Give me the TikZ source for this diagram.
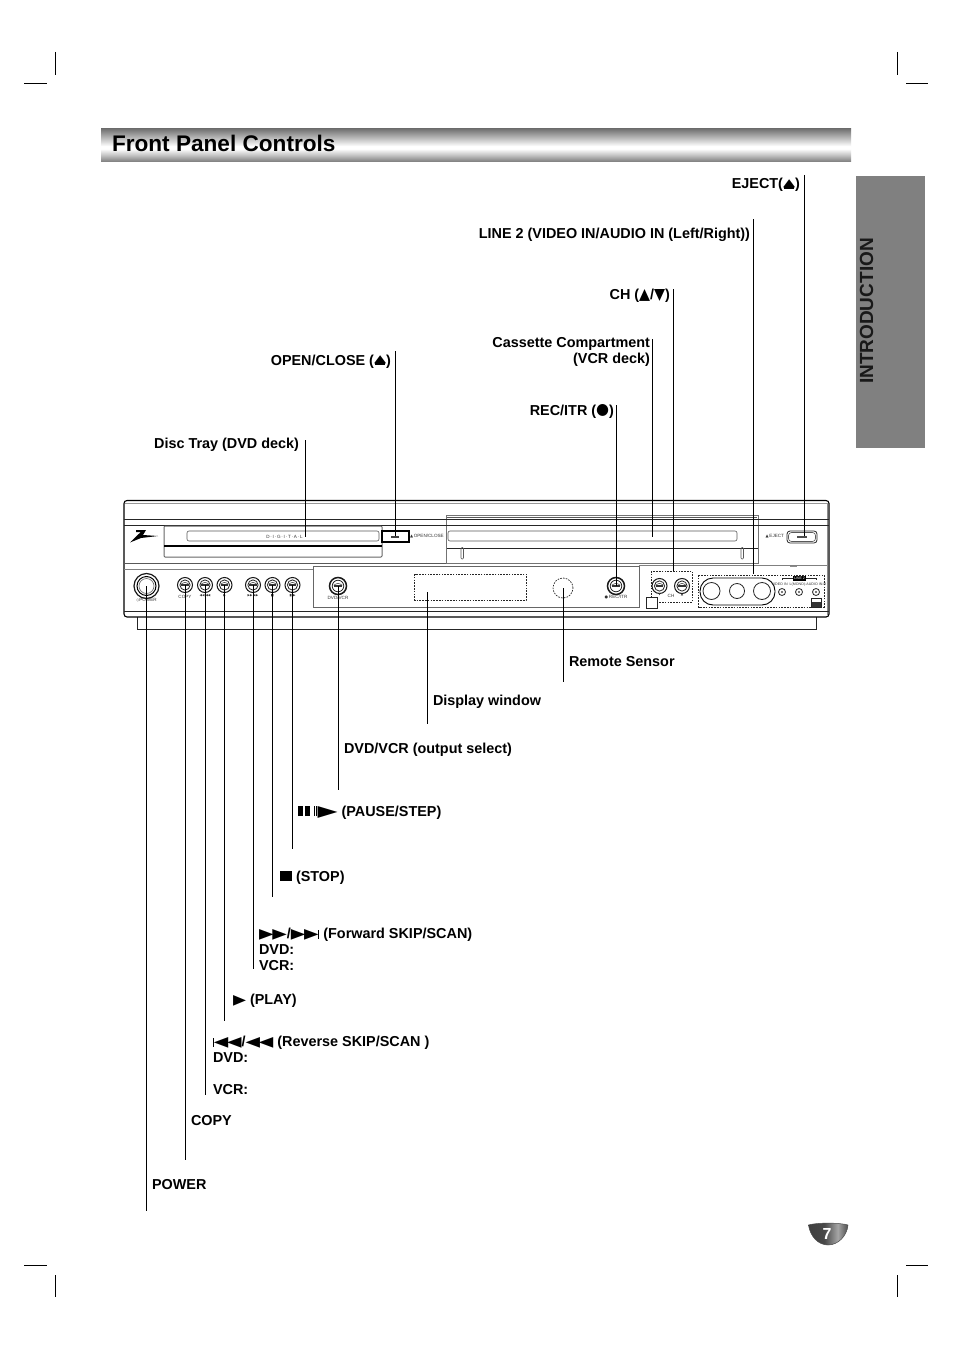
\documentclass[tikz,border=0pt]{standalone}
\usepackage{fontspec}
\setmainfont{Liberation Sans}
\newfontfamily\symf{DejaVu Sans}
\usetikzlibrary{calc}
\definecolor{tabgray}{HTML}{808080}
\pgfdeclareverticalshading{titlebar}{100bp}{
  color(0bp)=(black!52);
  color(25bp)=(black!52);
  color(36bp)=(black!22);
  color(45bp)=(white);
  color(49bp)=(white);
  color(62bp)=(black!28);
  color(75bp)=(black!55);
  color(100bp)=(black!55)}
\pgfdeclarehorizontalshading{badge}{100bp}{
  color(0bp)=(black!75);
  color(25bp)=(black!75);
  color(45bp)=(black!72);
  color(62bp)=(black!35);
  color(75bp)=(black!70);
  color(100bp)=(black!70)}
\newcommand{\lbl}{\fontsize{14.4}{16}\selectfont\bfseries}
\newcommand{\pl}{\resizebox{14.5pt}{9pt}{\symf ▶}}
\newcommand{\rv}{\resizebox{14.5pt}{9pt}{\symf ◀}}
\newcommand{\vb}{\rule{1.2pt}{9pt}}
\newcommand{\ej}{{\ooalign{\raisebox{2.8pt}{\resizebox{12.2pt}{6.8pt}{\symf ▲}}\cr\hfil\rule{10pt}{1.8pt}\hfil\cr}}}
\newcommand{\up}{\resizebox{11pt}{10pt}{\symf ▲}}
\newcommand{\dn}{\resizebox{11pt}{10pt}{\symf ▼}}
\newcommand{\rec}{\raisebox{0.3pt}{\resizebox{13pt}{10pt}{\symf ●}}}
\tikzset{
  leader/.style={draw=black,line width=1pt},
  crop/.style={draw=black,line width=1pt},
  label/.style={inner sep=0pt,outer sep=0pt,font=\lbl,text=black},
  labelr/.style={label,anchor=base east},
  labell/.style={label,anchor=base west},
  dev/.style={draw=black!85,line width=0.8pt},
  devthin/.style={draw=black!65,line width=0.6pt},
  devdash/.style={draw=black!85,line width=0.7pt,dash pattern=on 1.6pt off 1.2pt},
  tiny/.style={inner sep=0pt,outer sep=0pt,font=\fontsize{4.6}{5}\selectfont,text=black!80},
  tinysym/.style={inner sep=0pt,outer sep=0pt,font=\symf\fontsize{3.2}{3.2}\selectfont,text=black!80},
  btn/.style={circle,draw=black!90,line width=0.8pt,inner sep=0pt,outer sep=0pt,minimum size=#1},
}
% name, x, y, diameter, line width
\newcommand{\btnat}[5]{%
  \node[btn=#4pt,line width=#5pt] (#1) at (#2,#3) {};
  \draw[dev] (#2,#3) circle ({#4*0.34});
  \draw[devthin] ({#2-#4*0.26},{#3-0.8}) .. controls (#2,{#3-3.2}) .. ({#2+#4*0.26},{#3-0.8});
  \fill[black!80] ({#2-#4*0.26},{#3-0.6}) rectangle ({#2+#4*0.26},{#3+0.6});
}
\begin{document}
\begin{tikzpicture}[x=1pt,y=-1pt]
\useasboundingbox (0,0) rectangle (954,1351);
\fill[white] (0,0) rectangle (954,1351);

% crop marks
\coordinate (c1a) at (55,52);  \coordinate (c1b) at (55,75);
\coordinate (c2a) at (24,84);  \coordinate (c2b) at (47,84);
\coordinate (c3a) at (897,52); \coordinate (c3b) at (897,75);
\coordinate (c4a) at (906,84); \coordinate (c4b) at (928,84);
\coordinate (c5a) at (24,1265); \coordinate (c5b) at (47,1265);
\coordinate (c6a) at (55,1275); \coordinate (c6b) at (55,1297);
\coordinate (c7a) at (906,1265); \coordinate (c7b) at (928,1265);
\coordinate (c8a) at (897,1275); \coordinate (c8b) at (897,1297);
\foreach \i in {1,...,8} \draw[crop] (c\i a) -- (c\i b);

% title bar
\node[inner sep=0pt,outer sep=0pt,anchor=north west,minimum width=750pt,minimum height=33pt,shading=titlebar] (titlebar) at (101,129) {};
\node[inner sep=0pt,outer sep=0pt,anchor=base west,font=\fontsize{22.6}{26}\selectfont\bfseries] (title) at (112,151.5) {Front Panel Controls};

% side tab
\node[fill=tabgray,inner sep=0pt,outer sep=0pt,anchor=north west,minimum width=69pt,minimum height=272pt] (tab) at (856,176) {};
\node[inner sep=0pt,outer sep=0pt,rotate=90,font=\fontsize{19}{20}\selectfont\bfseries,text=black!90] (intro) at (866.5,311) {INTRODUCTION};

% page badge
\path[shading=badge,draw=black!70,line width=0.5pt] (808.5,1225) .. controls (816,1222.5) and (840,1222.5) .. (848,1225) .. controls (847,1236) and (838,1245) .. (828,1245) .. controls (818,1245) and (810,1236) .. (808.5,1225) -- cycle;
\node[inner sep=0pt,outer sep=0pt,font=\fontsize{16}{16}\selectfont\bfseries,text=white] (pageno) at (827,1234) {7};

% ---------- device ----------
% foot
\draw[dev] (137,617) -- (137,629) -- (816,629) -- (816,617);
% body
\draw[draw=black,line width=1.1pt,rounded corners=3pt,fill=white] (124,500.5) rectangle (829,617);
\draw[devthin,draw=black!40] (125,503) -- (828,503);
\draw[draw=black!45,line width=1pt] (827,504) -- (827,615);
% vcr deck
\draw[draw=black!55,line width=1pt,fill=white] (446.5,515.5) rectangle (758,563);
\draw[devthin] (447,517) -- (757,517);
\draw[dev] (124,519.5) -- (829,519.5);
\draw[dev] (124,525) -- (829,525);
\draw[devthin] (124,563) -- (446,563);
\draw[devthin,draw=black!50] (124,569) -- (313,569);
\draw[devthin,draw=black!50] (639,565.5) -- (827,565.5);
\draw[draw=black!45,line width=1pt] (790,566.5) -- (797,566.5);
\draw[dev] (124,611) -- (829,611);
% logo
\fill[black] (136,530) -- (146,530) -- (143,535) -- (158,536) -- (141,538) -- (130,542.5) -- (137,535.5) -- (141,532) -- (136,532) -- cycle;
% disc tray
\draw[draw=black!60,line width=1pt,fill=white,rounded corners=1pt] (164,526) rectangle (382,557);
\draw[devthin,rounded corners=2pt] (187,531) rectangle (379,541);
\fill[black] (164,545) rectangle (382,547);
\node[tiny] (digital) at (284.5,536.5) {D\,·\,I\,·\,G\,·\,I\,·\,T\,·\,A\,·\,L};
% open/close
\draw[draw=black,line width=1.6pt,fill=white] (382,531) rectangle (409,542);
\fill[black!75] (391,535.5) rectangle (399,537.5);
\node[tiny,anchor=west] (openlbl) at (410,536.5) {{\symf\fontsize{4}{4}\selectfont ▲}\,OPEN/CLOSE};
% vcr deck inner
\draw[devthin,rounded corners=2pt] (448,531) rectangle (737,541);
\draw[dev] (447,548) -- (758,548);
\draw[devthin,rounded corners=1pt] (461,547.5) rectangle (463.5,559);
\draw[devthin,rounded corners=1pt] (741,547.5) rectangle (743.5,559);
% eject
\node[tiny,anchor=east] (ejectlbl) at (784,536.5) {{\symf\fontsize{4}{4}\selectfont ▲}\,EJECT};
\draw[dev,rounded corners=3pt] (787,531) rectangle (817,543);
\draw[devthin,rounded corners=3pt] (788.5,532.5) rectangle (815.5,541.5);
\fill[black!70] (797,535.5) rectangle (807,537.5);
% lower panel
\draw[draw=black!60,line width=1pt,fill=white] (313.5,566) rectangle (639,607);
% power
\node[btn=25pt,line width=1.2pt] (bpower) at (146.5,586) {};
\draw[draw=black,line width=1pt] (146.5,586) circle (9.5);
\draw[draw=black!60,line width=0.6pt] (146.5,586) circle (7.5);
\node[tiny] (powerlbl) at (146.5,600.5) {{\symf\fontsize{4}{4}\selectfont ◇}POWER};
% buttons
\btnat{bcopy}{185}{585}{15}{1}
\btnat{brev}{205}{585}{15}{1}
\btnat{bplay}{224.5}{585}{15}{1}
\btnat{bfwd}{253}{585}{15}{1}
\btnat{bstop}{272.5}{585}{15}{1}
\btnat{bpause}{292.5}{585}{15}{1}
\btnat{bdvd}{338}{586}{17}{1.5}
\btnat{brec}{616}{586}{17}{1.5}
\btnat{bchd}{659.5}{586}{15}{1}
\btnat{bchu}{682}{586}{15}{1}
\node[tiny] (copylbl) at (185,596.5) {COPY};
\node[tinysym] (revlbl) at (205,596) {◀◀ ◀◀};
\node[tinysym] (playlbl) at (224.5,596) {▶};
\node[tinysym] (fwdlbl) at (253,596) {▶▶ ▶▶};
\node[tinysym] (stoplbl) at (272.5,596) {■};
\node[tinysym] (pauselbl) at (292.5,596) {▮▮▶};
\node[tiny] (dvdlbl) at (338,597.5) {DVD/VCR};
\node[tiny] (reclbl) at (616,597.5) {{\symf\fontsize{4}{4}\selectfont ●}\,REC/ITR};
\node[tinysym] (chd) at (659.5,595) {▼};
\node[tiny] (chl) at (671,595.5) {CH};
\node[tinysym] (chu) at (682,595) {▲};
% display, remote sensor
\draw[devdash] (414.5,574) rectangle (526,600);
\coordinate (dispT) at (427,592);
\node[circle,devdash,draw,minimum size=20pt,inner sep=0pt,outer sep=0pt] (remote) at (563,588) {};
% CH group
\draw[devdash] (651,571) rectangle (692,602);
\draw[dev,fill=white] (646,597) rectangle (657,608);
% AV group
\draw[devdash] (698.5,575) rectangle (824,607);
\draw[draw=black,line width=0.9pt,rounded corners=13pt] (700,578) rectangle (775,605);
\draw[dev] (711.5,591) circle (8.5);
\draw[dev] (737,591) circle (7.5);
\draw[dev] (762,591) circle (8.5);
\foreach \x in {782,799,816} {
  \draw[dev] (\x,592) circle (3.5);
  \fill[black!70] (\x,592) circle (1.1);
}
\draw[dev] (782,580) -- (782,578) -- (816,578) -- (816,580);
\fill[black] (793,575.5) rectangle (806,580.5);
\node[tiny,text=white,font=\fontsize{3.4}{4}\selectfont] (line2lbl) at (799.5,578) {LINE 2};
\node[tiny,font=\fontsize{3.6}{4}\selectfont] (avlbl) at (799,585) {VIDEO IN \ L(MONO)-AUDIO IN-R};
\draw[dev,fill=white] (811,598) rectangle (821,607);
\fill[black!80] (811.5,602) rectangle (820.5,606.5);

% ---------- labels ----------
\node[labelr] (lEject) at (800,189) {EJECT(\ej)};
\node[labelr] (lLine) at (750,238) {LINE 2 (VIDEO IN/AUDIO IN (Left/Right))};
\node[labelr] (lCh) at (670,299) {CH (\up/\dn)};
\node[labelr,anchor=north east,align=right] (lCass) at (650,337.5) {Cassette Compartment\\(VCR deck)};
\node[labelr] (lRec) at (614,415) {REC/ITR (\rec)};
\node[labelr] (lOpen) at (391,365) {OPEN/CLOSE (\ej)};
\node[labelr] (lDisc) at (299,448) {Disc Tray (DVD deck)};
\node[labell] (lRemote) at (569,666) {Remote Sensor};
\node[labell] (lDisp) at (433,705) {Display window};
\node[labell] (lDvd) at (344,753) {DVD/VCR (output select)};
\node[labell] (lPause) at (298,816) {\rule{5pt}{10pt}\kern1.5pt\rule{5pt}{10pt}\kern4pt\rule{1.4pt}{10pt}\kern1pt\rule{1.4pt}{10pt}\kern0.3pt\resizebox{20pt}{10pt}{\symf ▶} (PAUSE/STEP)};
\node[labell] (lStop) at (280,881) {\rule{12pt}{10.5pt} (STOP)};
\node[labell,align=left,anchor=north west] (lFwd) at (259,928.5) {\pl\kern-1.2pt\pl/\pl\kern-1.2pt\pl\kern-0.4pt\vb\ (Forward SKIP/SCAN)\\DVD:\\VCR:};
\node[labell] (lPlay) at (233,1004) {\resizebox{13pt}{9pt}{\symf ▶} (PLAY)};
\node[labell,align=left,anchor=north west] (lRev) at (213,1036.5) {\vb\kern-0.4pt\rv\kern-1.2pt\rv/\rv\kern-1.2pt\rv\ (Reverse SKIP/SCAN )\\DVD:\\ \\VCR:};
\node[labell] (lCopy) at (191,1125) {COPY};
\node[labell] (lPower) at (152,1189) {POWER};

% ---------- leaders ----------
\coordinate (tEject) at (804.5,175);  \coordinate (eEject) at (804.5,536);
\coordinate (tLine)  at (753.5,219);  \coordinate (eLine)  at (753.5,574);
\coordinate (tCh)    at (673.5,289);  \coordinate (eCh)    at (673.5,571);
\coordinate (tCass)  at (652.5,339);  \coordinate (eCass)  at (652.5,537);
\coordinate (tRec)   at (616,405);
\coordinate (tOpen)  at (395.5,351);  \coordinate (eOpen)  at (395.5,536);
\coordinate (tDisc)  at (305.5,440);  \coordinate (eDisc)  at (305.5,537);
\coordinate (tRemote) at (563,682);
\coordinate (tDisp)  at (427,724);
\coordinate (tDvd)   at (338,790);
\coordinate (tPause) at (292.5,849);
\coordinate (tStop)  at (272.5,897);
\coordinate (tFwd)   at (253,969);
\coordinate (tPlay)  at (224.5,1021);
\coordinate (tRev)   at (205,1095);
\coordinate (tCopy)  at (185,1160);
\coordinate (tPower) at (146.5,1211);
\draw[leader] (tEject) -- (eEject);
\draw[leader] (tLine) -- (eLine);
\draw[leader] (tCh) -- (eCh);
\draw[leader] (tCass) -- (eCass);
\draw[leader] (tRec) -- (brec.center);
\draw[leader] (tOpen) -- (eOpen);
\draw[leader] (tDisc) -- (eDisc);
\draw[leader] (remote.center) -- (tRemote);
\draw[leader] (dispT) -- (tDisp);
\draw[leader] (bdvd.center) -- (tDvd);
\draw[leader] (bpause.center) -- (tPause);
\draw[leader] (bstop.center) -- (tStop);
\draw[leader] (bfwd.center) -- (tFwd);
\draw[leader] (bplay.center) -- (tPlay);
\draw[leader] (brev.center) -- (tRev);
\draw[leader] (bcopy.center) -- (tCopy);
\draw[leader] (bpower.center) -- (tPower);
\end{tikzpicture}
\end{document}
